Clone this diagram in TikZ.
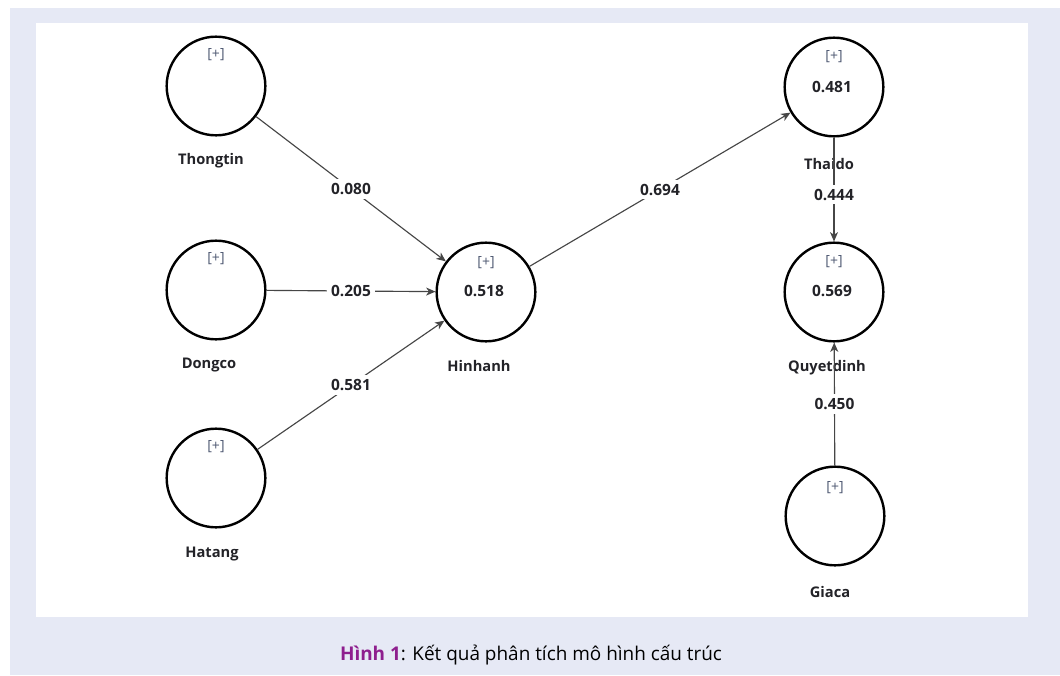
\documentclass[tikz,border=0pt]{standalone}
\usepackage{fontspec}
\setmainfont{Open Sans}
\usetikzlibrary{arrows.meta}
\definecolor{bglav}{RGB}{230,233,245}
\definecolor{capurple}{RGB}{142,30,142}
\definecolor{plusc}{RGB}{80,90,115}
\definecolor{txt}{RGB}{35,35,40}
\definecolor{edgec}{RGB}{70,70,70}
\begin{document}
\begin{tikzpicture}[x=0.75pt,y=-0.75pt,
 lv/.style={circle,draw=black,line width=1.8pt,minimum size=74pt,inner sep=0pt},
 nm/.style={font=\bfseries\fontsize{11}{13}\selectfont,text=txt,inner sep=1pt},
 val/.style={font=\bfseries\fontsize{11.6}{13}\selectfont,text=txt,inner sep=1pt},
 pl/.style={font=\fontsize{10.5}{12}\selectfont,text=plusc,inner sep=1pt},
 pth/.style={draw=edgec,line width=0.85pt,-{Stealth[length=7pt,width=6pt,inset=2pt]}},
 coef/.style={fill=white,font=\bfseries\fontsize{11.6}{13}\selectfont,text=txt,inner sep=3pt,midway}]
\useasboundingbox (0,0) rectangle (1060,675);
\fill[white] (0,0) rectangle (1060,675);
\fill[bglav] (10,8) rectangle (1060,675);
\fill[white] (36,23) rectangle (1028,617);

% latent variables
\node[lv] (th) at (216,86) {};
\node[lv] (dc) at (216,290) {};
\node[lv] (ht) at (216,478) {};
\node[lv] (hi) at (486,292) {};
\node[lv] (td) at (834,87) {};
\node[lv] (qd) at (834,292) {};
\node[lv] (gc) at (835,516) {};

% [+] markers
\node[pl] (thp) at (216,55) {[+]};
\node[pl] (dcp) at (216,259) {[+]};
\node[pl] (htp) at (216,447) {[+]};
\node[pl] (hip) at (486,263) {[+]};
\node[pl] (tdp) at (834,57) {[+]};
\node[pl] (qdp) at (834,262) {[+]};
\node[pl] (gcp) at (835,488) {[+]};

% R2 values
\node[val] (hiv) at (484,291) {0.518};
\node[val] (tdv) at (832,87) {0.481};
\node[val] (qdv) at (832,291) {0.569};

% names
\node[nm] (thn) at (211,161) {Thongtin};
\node[nm] (dcn) at (209,365) {Dongco};
\node[nm] (htn) at (212,554) {Hatang};
\node[nm] (hin) at (479,366) {Hinhanh};
\node[nm] (tdn) at (829,164) {Thaido};
\node[nm] (qdn) at (827,368) {Quyetdinh};
\node[nm] (gcn) at (830,592) {Giaca};

% paths
\draw[pth] (th) -- node[coef] (c1) {0.080} (hi);
\draw[pth] (dc) -- node[coef] (c2) {0.205} (hi);
\draw[pth] (ht) -- node[coef] (c3) {0.581} (hi);
\draw[pth] (hi) -- node[coef] (c4) {0.694} (td);
\draw[pth] (td) -- node[coef,pos=0.55] (c5) {0.444} (qd);
\draw[pth] (gc) -- node[coef] (c6) {0.450} (qd);

% caption
\node[font=\fontsize{14.2}{17}\selectfont,inner sep=0pt] (cap) at (531,655)
 {\textcolor{capurple}{\bfseries Hình 1}: Kết quả phân tích mô hình cấu trúc};
\end{tikzpicture}
\end{document}
